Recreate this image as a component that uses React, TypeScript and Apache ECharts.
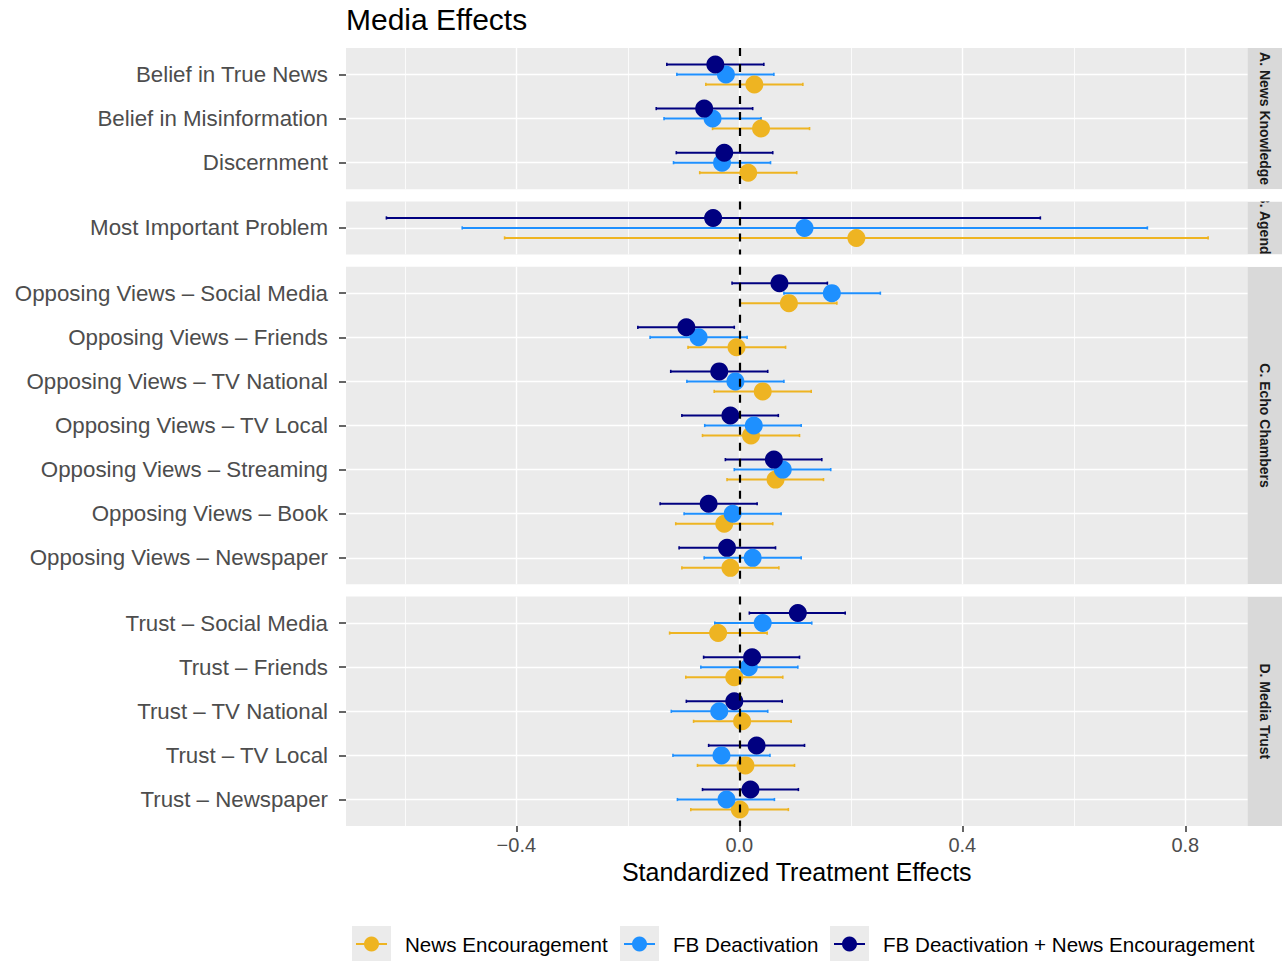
import React, { useEffect, useRef } from "react";
import * as echarts from "echarts";

const FONT = "'Liberation Sans', Arial, Helvetica, sans-serif";

const GROUPS = ["News Encouragement", "FB Deactivation", "FB Deactivation + News Encouragement"];
const COLORS = ["#EEB422", "#1E90FF", "#000080"];

const PANEL_NAMES = ["A. News Knowledge", "B. Agenda", "C. Echo Chambers", "D. Media Trust"];
const PANEL_SIZES = [3, 1, 7, 5];

const OUTCOMES = [
  "Belief in True News",
  "Belief in Misinformation",
  "Discernment",
  "Most Important Problem",
  "Opposing Views \u2013 Social Media",
  "Opposing Views \u2013 Friends",
  "Opposing Views \u2013 TV National",
  "Opposing Views \u2013 TV Local",
  "Opposing Views \u2013 Streaming",
  "Opposing Views \u2013 Book",
  "Opposing Views \u2013 Newspaper",
  "Trust \u2013 Social Media",
  "Trust \u2013 Friends",
  "Trust \u2013 TV National",
  "Trust \u2013 TV Local",
  "Trust \u2013 Newspaper",
];

// News Encouragement
const newsEst = [0.027, 0.039, 0.016, 0.210, 0.089, -0.005, 0.042, 0.021, 0.065, -0.027, -0.016, -0.038, -0.009, 0.005, 0.011, 0.001];
const newsLo = [-0.060, -0.048, -0.071, -0.421, 0.001, -0.092, -0.045, -0.066, -0.022, -0.114, -0.103, -0.125, -0.096, -0.082, -0.075, -0.087];
const newsHi = [0.114, 0.126, 0.103, 0.841, 0.175, 0.083, 0.129, 0.108, 0.151, 0.060, 0.071, 0.050, 0.078, 0.093, 0.099, 0.088];

// FB Deactivation
const fbEst = [-0.024, -0.048, -0.031, 0.117, 0.166, -0.073, -0.007, 0.026, 0.078, -0.012, 0.024, 0.042, 0.017, -0.036, -0.032, -0.023];
const fbLo = [-0.112, -0.135, -0.118, -0.497, 0.080, -0.160, -0.094, -0.062, -0.009, -0.099, -0.063, -0.044, -0.069, -0.122, -0.119, -0.111];
const fbHi = [0.062, 0.039, 0.056, 0.732, 0.253, 0.014, 0.080, 0.111, 0.164, 0.075, 0.111, 0.130, 0.105, 0.051, 0.055, 0.063];

// FB Deactivation + News Encouragement
const bothEst = [-0.043, -0.063, -0.027, -0.047, 0.072, -0.095, -0.036, -0.016, 0.062, -0.055, -0.022, 0.105, 0.023, -0.009, 0.031, 0.020];
const bothLo = [-0.130, -0.149, -0.113, -0.633, -0.013, -0.182, -0.123, -0.103, -0.025, -0.142, -0.108, 0.018, -0.064, -0.095, -0.055, -0.066];
const bothHi = [0.044, 0.024, 0.060, 0.540, 0.158, -0.009, 0.051, 0.070, 0.148, 0.032, 0.065, 0.190, 0.108, 0.077, 0.117, 0.106];

const X_TICKS = [-0.4, 0, 0.4, 0.8];
const X_MINOR = [-0.6, -0.2, 0.2, 0.6];
const X_MIN = -0.7055;
const X_MAX = 0.9116;

const EST = [newsEst, fbEst, bothEst];
const LO = [newsLo, fbLo, bothLo];
const HI = [newsHi, fbHi, bothHi];

function fmtX(v: number) {
  if (Math.abs(v) < 1e-9) return "0.0";
  return (v < 0 ? "\u2212" : "") + Math.abs(v).toFixed(1);
}

function buildOption() {
  const PLOT_LEFT = 346;
  const PLOT_WIDTH = 901.5;
  const PANEL_TOP = 48;
  const PANEL_BOTTOM = 826;
  const GAP = 12.3;
  const EXPAND = 0.6;
  const DODGE = 0.68;
  const offsets = [DODGE / 3, 0, -DODGE / 3];
  const totalUnits = PANEL_SIZES.reduce((s, n) => s + n - 1 + 2 * EXPAND, 0);
  const unit = (PANEL_BOTTOM - PANEL_TOP - GAP * (PANEL_SIZES.length - 1)) / totalUnits;

  const grids: any[] = [];
  const xAxes: any[] = [];
  const yAxes: any[] = [];
  const series: any[] = [];
  const graphics: any[] = [];
  const panelBoxes: { top: number; h: number }[] = [];

  let top = PANEL_TOP;
  let start = 0;
  PANEL_SIZES.forEach((n, p) => {
    const h = (n - 1 + 2 * EXPAND) * unit;
    panelBoxes.push({ top, h });
    const isLast = p === PANEL_SIZES.length - 1;
    grids.push({
      left: PLOT_LEFT,
      top,
      width: PLOT_WIDTH,
      height: h,
      show: true,
      backgroundColor: "#EBEBEB",
      borderWidth: 0,
      containLabel: false,
    });
    xAxes.push({
      type: "value",
      gridIndex: p,
      position: "bottom",
      min: X_MIN,
      max: X_MAX,
      axisLine: { show: false, onZero: false },
      axisTick: {
        show: isLast,
        customValues: X_TICKS,
        length: 6,
        lineStyle: { color: "#333333", width: 1.5 },
      },
      axisLabel: {
        show: isLast,
        customValues: X_TICKS,
        formatter: (v: number) => fmtX(v),
        color: "#4D4D4D",
        fontSize: 20,
        fontFamily: FONT,
        margin: 9,
      },
      splitLine: { show: true, lineStyle: { color: "#FFFFFF", width: 1.4 } },
      name: isLast ? "Standardized Treatment Effects" : "",
      nameLocation: "middle",
      nameGap: 33,
      nameTextStyle: { fontSize: 25, color: "#000000", fontFamily: FONT },
    });
    const labels = OUTCOMES.slice(start, start + n);
    const idx = labels.map((_, i) => i);
    yAxes.push({
      type: "value",
      gridIndex: p,
      position: "left",
      inverse: true,
      min: -EXPAND,
      max: n - 1 + EXPAND,
      axisLine: { show: false, onZero: false },
      axisTick: {
        show: true,
        customValues: idx,
        length: 7,
        lineStyle: { color: "#333333", width: 1.5 },
      },
      axisLabel: {
        customValues: idx,
        formatter: (v: number) => labels[Math.round(v)] ?? "",
        color: "#4D4D4D",
        fontSize: 22.3,
        fontFamily: FONT,
        margin: 18,
      },
      splitLine: { show: true, lineStyle: { color: "#FFFFFF", width: 1.4 } },
    });

    // minor vertical grid lines
    series.push({
      type: "scatter",
      name: "minor-grid-" + p,
      xAxisIndex: p,
      yAxisIndex: p,
      data: [],
      silent: true,
      markLine: {
        silent: true,
        z: 1,
        symbol: ["none", "none"],
        label: { show: false },
        lineStyle: { color: "#FFFFFF", width: 0.8, type: "solid" },
        emphasis: { disabled: true },
        data: X_MINOR.map((v) => ({ xAxis: v })),
      },
    });

    GROUPS.forEach((gName, g) => {
      const color = COLORS[g];
      const rows = idx.map((i) => start + i);
      series.push({
        type: "custom",
        name: gName,
        xAxisIndex: p,
        yAxisIndex: p,
        z: 2,
        silent: true,
        itemStyle: { color },
        encode: { x: [0, 1], y: 2 },
        data: rows.map((r, i) => [LO[g][r], HI[g][r], i + offsets[g]]),
        renderItem: (params: any, api: any) => {
          const y = api.value(2);
          const a = api.coord([api.value(0), y]);
          const b = api.coord([api.value(1), y]);
          const st = { stroke: color, lineWidth: 2 };
          const cap = { stroke: color, lineWidth: 1.6 };
          return {
            type: "group",
            children: [
              { type: "line", shape: { x1: a[0], y1: a[1], x2: b[0], y2: b[1] }, style: st },
              { type: "line", shape: { x1: a[0], y1: a[1] - 1.6, x2: a[0], y2: a[1] + 1.6 }, style: cap },
              { type: "line", shape: { x1: b[0], y1: b[1] - 1.6, x2: b[0], y2: b[1] + 1.6 }, style: cap },
            ],
          };
        },
      });
    });
    GROUPS.forEach((gName, g) => {
      const rows = idx.map((i) => start + i);
      series.push({
        type: "scatter",
        name: gName,
        xAxisIndex: p,
        yAxisIndex: p,
        z: 3 + g,
        silent: true,
        symbol: "circle",
        symbolSize: 18,
        itemStyle: { color: COLORS[g], opacity: 1 },
        data: rows.map((r, i) => [EST[g][r], i + offsets[g]]),
      });
    });

    // zero reference line
    series.push({
      type: "scatter",
      name: "zero-" + p,
      xAxisIndex: p,
      yAxisIndex: p,
      data: [],
      silent: true,
      markLine: {
        silent: true,
        z: 10,
        symbol: ["none", "none"],
        label: { show: false },
        lineStyle: { color: "#000000", width: 2.2, type: [8, 8] },
        emphasis: { disabled: true },
        data: [{ xAxis: 0 }],
      },
    });

    top += h + GAP;
    start += n;
  });

  // strips
  const STRIP_X = PLOT_LEFT + PLOT_WIDTH;
  const STRIP_W = 1282 - STRIP_X;
  panelBoxes.forEach((b, p) => {
    graphics.push({
      type: "rect",
      z: 0,
      shape: { x: STRIP_X, y: b.top, width: STRIP_W, height: b.h },
      style: { fill: "#D9D9D9" },
      silent: true,
    });
    graphics.push({
      type: "text",
      z: 1,
      x: STRIP_X + STRIP_W / 2,
      y: b.top + b.h / 2,
      rotation: -Math.PI / 2,
      silent: true,
      style: {
        text: PANEL_NAMES[p],
        fontSize: 14,
        fontWeight: "bold",
        fontFamily: FONT,
        fill: "#1A1A1A",
        align: "center",
        verticalAlign: "middle",
      },
    });
  });
  // clip strip text overflow into the white gaps
  for (let p = 0; p < panelBoxes.length - 1; p++) {
    const y0 = panelBoxes[p].top + panelBoxes[p].h;
    const y1 = panelBoxes[p + 1].top;
    graphics.push({
      type: "rect",
      z: 2,
      silent: true,
      shape: { x: STRIP_X, y: y0, width: STRIP_W, height: y1 - y0 },
      style: { fill: "#FFFFFF" },
    });
  }

  // legend
  const LEG_X = [352, 620, 830];
  const LEG_Y = 944;
  GROUPS.forEach((gName, g) => {
    const kx = LEG_X[g];
    graphics.push({
      type: "rect",
      silent: true,
      shape: { x: kx, y: LEG_Y - 18, width: 39, height: 36 },
      style: { fill: "#EBEBEB" },
    });
    graphics.push({
      type: "line",
      silent: true,
      shape: { x1: kx + 4, y1: LEG_Y, x2: kx + 35, y2: LEG_Y },
      style: { stroke: COLORS[g], lineWidth: 2 },
    });
    graphics.push({
      type: "circle",
      silent: true,
      shape: { cx: kx + 19.5, cy: LEG_Y, r: 7.5 },
      style: { fill: COLORS[g] },
    });
    graphics.push({
      type: "text",
      silent: true,
      x: kx + 53,
      y: LEG_Y,
      style: {
        text: gName,
        fontSize: 20.6,
        fontFamily: FONT,
        fill: "#000000",
        align: "left",
        verticalAlign: "middle",
      },
    });
  });

  return {
    animation: false,
    backgroundColor: "#FFFFFF",
    textStyle: { fontFamily: FONT },
    title: {
      text: "Media Effects",
      left: 346,
      top: 4,
      padding: 0,
      textStyle: { fontSize: 30, fontWeight: "normal", color: "#000000", fontFamily: FONT },
    },
    legend: { show: false },
    tooltip: { show: false },
    grid: grids,
    xAxis: xAxes,
    yAxis: yAxes,
    series,
    graphic: { elements: graphics },
  };
}

export default function App() {
  const ref = useRef<HTMLDivElement>(null);
  useEffect(() => {
    document.body.style.margin = "0";
    if (!ref.current) return;
    const chart = echarts.init(ref.current, null, { renderer: "svg" });
    chart.setOption(buildOption() as any);
    return () => {
      chart.dispose();
    };
  }, []);
  return (
    <div
      ref={ref}
      style={{ position: "absolute", left: 0, top: 0, width: 1282, height: 961, background: "#FFFFFF" }}
    />
  );
}
